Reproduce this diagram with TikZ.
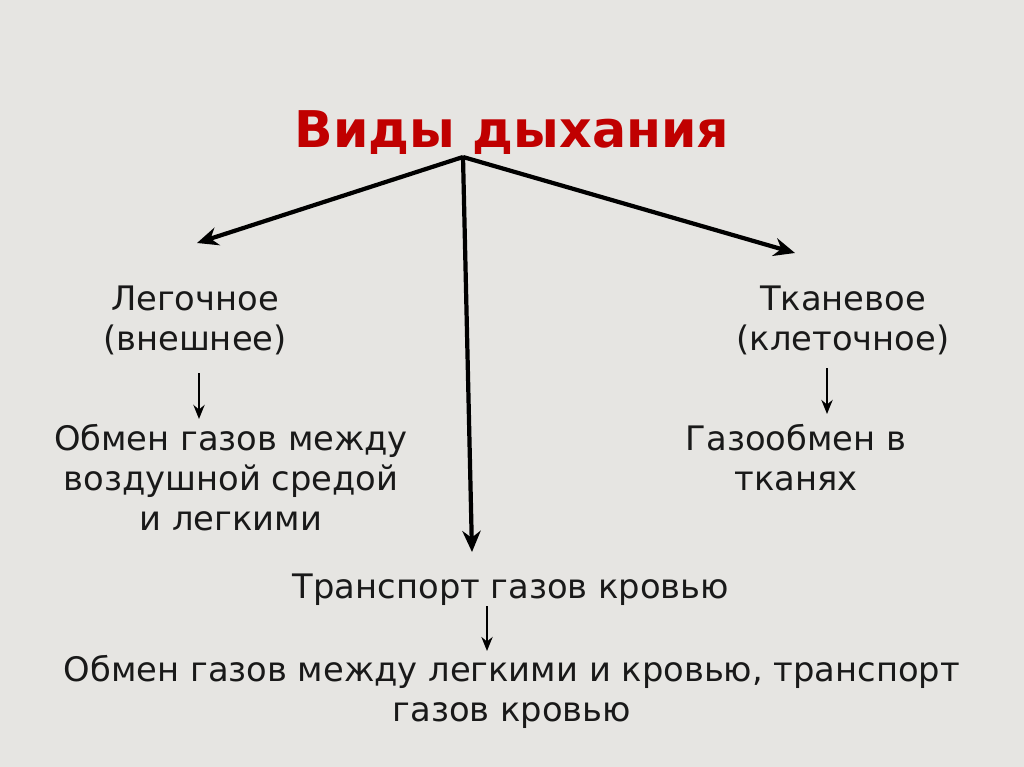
\documentclass[tikz,border=0pt]{standalone}
\usepackage{fontspec}
\setmainfont{DejaVu Sans}
\usetikzlibrary{arrows.meta, positioning}
\definecolor{bgpaper}{RGB}{230,229,226}
\definecolor{titlered}{RGB}{192,0,0}
\definecolor{inkgray}{RGB}{25,25,25}

\begin{document}
\begin{tikzpicture}[x=0.025cm, y=-0.025cm,
  bigarrow/.style={-{Stealth[length=15pt, width=13pt]}, line width=3pt, black},
  smallarrow/.style={-{Stealth[length=10pt, width=8pt]}, line width=1.5pt, black},
  label/.style={align=center, text=inkgray, inner sep=0pt,
    font=\fontsize{24}{28.45}\selectfont}]
% Background
\fill[bgpaper] (0,0) rectangle (1024,767);
\useasboundingbox (0,0) rectangle (1024,767);

% Title
\node[text=titlered, font=\fontsize{36}{40}\bfseries] (title) at (512,133) {Виды дыхания};
\coordinate (root) at (463,157);

% Left branch
\node[label] (lung) at (195,320) {Легочное\\(внешнее)};
\node[label] (lungx) at (231,478) {Обмен газов между\\воздушной средой\\и легкими};

% Right branch
\node[label] (tissue) at (843,320) {Тканевое\\(клеточное)};
\node[label] (tissuex) at (796,458) {Газообмен в\\тканях};

% Middle branch
\node[label] (blood) at (511,590) {Транспорт газов кровью};
\node[label] (bloodx) at (512,692) {Обмен газов между легкими и кровью, транспорт\\газов кровью};

% Main arrows
\coordinate (lend) at (197,243);
\coordinate (rend) at (795,253);
\coordinate (mend) at (472,552);
\draw[bigarrow] (root) -- (lend);
\draw[bigarrow] (root) -- (rend);
\draw[bigarrow] (root) -- (mend);

% Small arrows
\coordinate (l1) at (199,373); \coordinate (l2) at (199,419);
\coordinate (r1) at (827,368); \coordinate (r2) at (827,414);
\coordinate (m1) at (487,606); \coordinate (m2) at (487,651);
\draw[smallarrow] (l1) -- (l2);
\draw[smallarrow] (r1) -- (r2);
\draw[smallarrow] (m1) -- (m2);

\end{tikzpicture}
\end{document}
